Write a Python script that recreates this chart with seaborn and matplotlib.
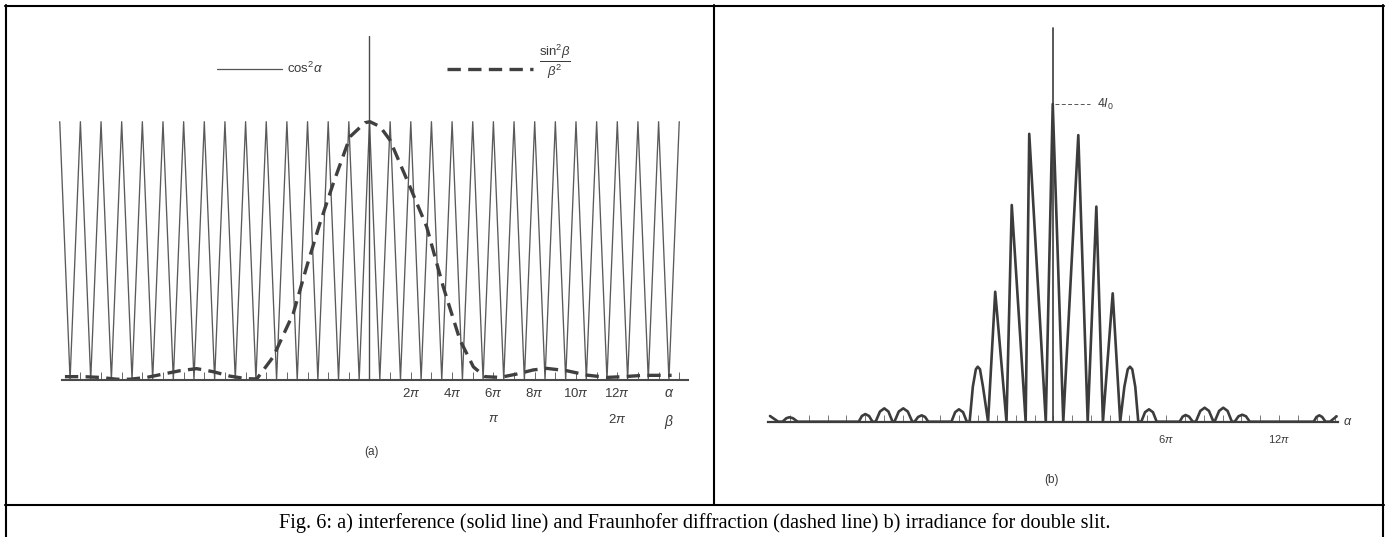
import matplotlib
matplotlib.use("Agg")
import matplotlib.pyplot as plt
from matplotlib.lines import Line2D
import seaborn as sns

# ---------------- data (alpha in units of pi) ----------------
# panel (a): cos^2(alpha) drawn as a zig-zag: maxima and zeros
cos_peak_alpha = [-15, -14, -13, -12, -11, -10, -9, -8, -7, -6, -5, -4, -3, -2, -1, 0,
                  1, 2, 3, 4, 5, 6, 7, 8, 9, 10, 11, 12, 13, 14, 15]
cos_peak_value = [1.0, 1.0, 1.0, 1.0, 1.0, 1.0, 1.0, 1.0, 1.0, 1.0, 1.0, 1.0, 1.0, 1.0, 1.0, 1.0,
                  1.0, 1.0, 1.0, 1.0, 1.0, 1.0, 1.0, 1.0, 1.0, 1.0, 1.0, 1.0, 1.0, 1.0, 1.0]
cos_zero_alpha = [-14.5, -13.5, -12.5, -11.5, -10.5, -9.5, -8.5, -7.5, -6.5, -5.5, -4.5, -3.5,
                  -2.5, -1.5, -0.5, 0.5, 1.5, 2.5, 3.5, 4.5, 5.5, 6.5, 7.5, 8.5, 9.5, 10.5,
                  11.5, 12.5, 13.5, 14.5]
cos_zero_value = [0.0, 0.0, 0.0, 0.0, 0.0, 0.0, 0.0, 0.0, 0.0, 0.0, 0.0, 0.0, 0.0, 0.0, 0.0,
                  0.0, 0.0, 0.0, 0.0, 0.0, 0.0, 0.0, 0.0, 0.0, 0.0, 0.0, 0.0, 0.0, 0.0, 0.0]
spike_a = 1.33   # thin vertical line through the central maximum (a)

# panel (a): sin^2(beta)/beta^2 envelope (dashed)
env_alpha = [-14.75, -13.86, -13.05, -12.24, -11.60, -10.79, -9.99, -9.18, -8.37, -7.56,
             -6.76, -5.95, -5.46, -4.66, -3.69, -3.04, -2.40, -1.75, -0.94, -0.22, 0.02,
             0.51, 0.99, 1.96, 2.77, 3.57, 4.38, 5.03, 5.59, 6.32, 7.13, 7.93, 8.58, 9.55,
             10.52, 11.49, 12.29, 13.26, 14.07, 14.63]
env_value = [0.013, 0.013, 0.010, 0.003, 0.003, 0.010, 0.023, 0.036, 0.044, 0.032,
             0.015, 0.005, 0.004, 0.090, 0.258, 0.439, 0.607, 0.762, 0.942, 0.996, 1.0,
             0.981, 0.929, 0.748, 0.593, 0.361, 0.155, 0.051, 0.013, 0.010, 0.023, 0.039,
             0.045, 0.036, 0.019, 0.010, 0.013, 0.018, 0.018, 0.018]

# panel (b): irradiance for the double slit (in units of 4 I0)
irr_alpha = [-15.07, -14.63, -14.40, -14.20, -14.04, -13.85, -13.60,
             -10.35, -10.18, -10.00, -9.80, -9.62,
             -9.45, -9.22, -8.99, -8.77, -8.55,
             -8.45, -8.22, -7.98, -7.74, -7.50,
             -7.38, -7.19, -7.00, -6.82, -6.65,
             -5.42, -5.22, -5.02, -4.80, -4.60,
             -4.45, -4.28, -4.12, -4.02, -3.90, -3.74, -3.47,
             -3.09, -2.49, -2.21, -1.47, -1.28, -0.40, -0.03, 0.53,
             1.33, 1.83, 2.29, 2.64, 3.16, 3.56,
             3.78, 3.96, 4.08, 4.20, 4.36, 4.52,
             4.68, 4.88, 5.09, 5.30, 5.50,
             6.72, 6.88, 7.04, 7.22, 7.42,
             7.58, 7.82, 8.05, 8.28, 8.52,
             8.58, 8.82, 9.04, 9.27, 9.50,
             9.65, 9.85, 10.05, 10.25, 10.45,
             13.85, 14.00, 14.15, 14.30, 14.48,
             14.72, 15.07]
irr_value = [0.018, 0.0, 0.0, 0.011, 0.014, 0.011, 0.0,
             0.0, 0.018, 0.024, 0.018, 0.0,
             0.0, 0.032, 0.042, 0.032, 0.0,
             0.0, 0.032, 0.042, 0.032, 0.0,
             0.0, 0.015, 0.020, 0.015, 0.0,
             0.0, 0.030, 0.039, 0.030, 0.0,
             0.0, 0.110, 0.165, 0.173, 0.165, 0.110, 0.0,
             0.409, 0.0, 0.682, 0.0, 0.906, 0.0, 1.0, 0.0,
             0.902, 0.0, 0.677, 0.0, 0.404, 0.0,
             0.110, 0.165, 0.173, 0.165, 0.110, 0.0,
             0.0, 0.030, 0.039, 0.030, 0.0,
             0.0, 0.016, 0.021, 0.016, 0.0,
             0.0, 0.034, 0.044, 0.034, 0.0,
             0.0, 0.034, 0.044, 0.034, 0.0,
             0.0, 0.017, 0.022, 0.017, 0.0,
             0.0, 0.015, 0.020, 0.015, 0.0,
             0.0, 0.017]
spike_b = 1.24

# tick labels
a_tick_pos = [2, 4, 6, 8, 10, 12]
a_tick_lab = [r"$2\pi$", r"$4\pi$", r"$6\pi$", r"$8\pi$", r"$10\pi$", r"$12\pi$"]
beta_tick_pos = [1, 2]
beta_tick_lab = [r"$\pi$", r"$2\pi$"]
b_tick_pos = [6, 12]
b_tick_lab = [r"$6\pi$", r"$12\pi$"]
minor_ticks = [-14, -13, -12, -11, -10, -9, -8, -7, -6, -5, -4, -3, -2, -1, 0,
               1, 2, 3, 4, 5, 6, 7, 8, 9, 10, 11, 12, 13, 14, 15]

caption = ("Fig. 6: a) interference (solid line) and Fraunhofer diffraction (dashed line) "
           "b) irradiance for double slit.")

# ---------------- style ----------------
sns.set_theme(style="white")
plt.rcParams["font.family"] = ["Liberation Sans", "DejaVu Sans"]
plt.rcParams["mathtext.fontset"] = "custom"
plt.rcParams["mathtext.rm"] = "Liberation Sans"
plt.rcParams["mathtext.it"] = "Liberation Sans:italic"
plt.rcParams["mathtext.bf"] = "Liberation Sans:bold"

TXT = "#3a3a3a"
W, H = 1388, 537
fig = plt.figure(figsize=(W / 100, H / 100), dpi=100)
fig.patch.set_facecolor("white")


def px_axes(left, top, right, bottom):
    return fig.add_axes([left / W, 1 - bottom / H, (right - left) / W, (bottom - top) / H])


# ---------------- panel (a) ----------------
axL = px_axes(53.55, 28.7, 691.64, 380)
axL.set_xlim(-15.3, 15.6)
axL.set_ylim(0, 1.36)
zig = sorted(zip(cos_peak_alpha + cos_zero_alpha, cos_peak_value + cos_zero_value))
sns.lineplot(x=[p[0] for p in zig], y=[p[1] for p in zig], sort=False, estimator=None,
             ax=axL, color="#5a5a5a", linewidth=0.95, clip_on=False)
sns.lineplot(x=[0, 0], y=[0, spike_a], sort=False, estimator=None, ax=axL,
             color="#4a4a4a", linewidth=1.0, clip_on=False)
sns.lineplot(x=env_alpha, y=env_value, sort=False, estimator=None, ax=axL,
             color="#404040", linewidth=2.4, linestyle=(0, (4.0, 2.2)), clip_on=False)

for s in ["left", "right", "top"]:
    axL.spines[s].set_visible(False)
axL.spines["bottom"].set_bounds(-14.9, 15.4)
axL.spines["bottom"].set_color("#4a4a4a")
axL.spines["bottom"].set_linewidth(1.5)
axL.set_yticks([])
axL.set_xticks(a_tick_pos, labels=a_tick_lab)
axL.set_xticks(minor_ticks, minor=True)
axL.tick_params(axis="x", which="both", direction="in", length=5.8, width=0.7,
                color="#666666", bottom=True, pad=5, labelsize=9.5, labelcolor=TXT)
axL.grid(False)
sec = axL.secondary_xaxis("bottom", functions=(lambda a: a / 6.0, lambda b: b * 6.0))
sec.set_xticks(beta_tick_pos, labels=beta_tick_lab)
sec.tick_params(length=0, pad=24, labelsize=9.5, labelcolor=TXT)
sec.spines["bottom"].set_visible(False)

axL.annotate(r"$\alpha$", xy=(14.52, 0), xytext=(0, -9.4), textcoords="offset points",
             ha="center", va="center", fontsize=10, color=TXT, annotation_clip=False)
axL.annotate(r"$\beta$", xy=(14.52, 0), xytext=(0, -30), textcoords="offset points",
             ha="center", va="center", fontsize=10, color=TXT, annotation_clip=False)
axL.annotate("(a)", xy=(0.12, 0), xytext=(0, -52), textcoords="offset points",
             ha="center", va="center", fontsize=8.5, color=TXT, annotation_clip=False)

# legend drawn as in the original figure
axL.plot([-7.37, -4.25], [1.203, 1.203], color="#555555", lw=0.9, clip_on=False)
axL.text(-4.0, 1.208, r"$\mathrm{cos}^2\alpha$", ha="left", va="center", fontsize=9.5, color=TXT)
axL.plot([3.74, 7.93], [1.205, 1.205], color="#404040", lw=2.4,
         linestyle=(0, (4.0, 2.2)), clip_on=False)
axL.text(8.2, 1.232, r"$\frac{\mathrm{sin}^2\beta}{\beta^2}$", ha="left", va="center",
         fontsize=13.5, color=TXT)

# ---------------- panel (b) ----------------
axR = px_axes(765.66, 18.2, 1340.94, 421.7)
axR.set_xlim(-15.3, 15.3)
axR.set_ylim(0, 1.27)
sns.lineplot(x=irr_alpha, y=irr_value, sort=False, estimator=None, ax=axR,
             color="#3c3c3c", linewidth=1.9, clip_on=False)
sns.lineplot(x=[0, 0], y=[0, spike_b], sort=False, estimator=None, ax=axR,
             color="#3c3c3c", linewidth=1.2, clip_on=False)
for s in ["left", "right", "top"]:
    axR.spines[s].set_visible(False)
axR.spines["bottom"].set_bounds(-15.2, 15.15)
axR.spines["bottom"].set_color("#3c3c3c")
axR.spines["bottom"].set_linewidth(1.6)
axR.set_yticks([])
axR.set_xticks(b_tick_pos, labels=b_tick_lab)
axR.set_xticks(minor_ticks, minor=True)
axR.tick_params(axis="x", which="both", direction="in", length=5, width=0.7,
                color="#777777", bottom=True, pad=8, labelsize=8, labelcolor=TXT)
axR.grid(False)
axR.annotate(r"$\alpha$", xy=(15.68, 0), xytext=(0, 0), textcoords="offset points",
             ha="center", va="center", fontsize=9, color=TXT, annotation_clip=False)
axR.annotate("(b)", xy=(-0.07, 0), xytext=(0, -42), textcoords="offset points",
             ha="center", va="center", fontsize=8.5, color=TXT, annotation_clip=False)
axR.plot([0.1, 1.95], [1.0, 1.0], color="#555555", lw=0.7, linestyle=(0, (4, 2.5)),
         clip_on=False)
axR.text(2.3, 1.0, r"$4I_0$", ha="left", va="center", fontsize=9, color=TXT)

# ---------------- table frame and caption ----------------
def hline(y, x0, x1):
    fig.add_artist(Line2D([x0 / W, x1 / W], [1 - y / H, 1 - y / H], color="black", lw=1.5))


def vline(x, y0, y1):
    fig.add_artist(Line2D([x / W, x / W], [1 - y0 / H, 1 - y1 / H], color="black", lw=1.5))


hline(6, 5, 1384)
hline(505, 5, 1384)
vline(6, 5, 537)
vline(1383, 5, 537)
vline(714, 5, 505)

fig.text((6 + 1383) / 2 / W, 1 - 523 / H, caption, ha="center", va="center",
         fontfamily="Liberation Serif", fontsize=14.6, color="black")

fig.savefig("out.png", dpi=100, facecolor="white")
